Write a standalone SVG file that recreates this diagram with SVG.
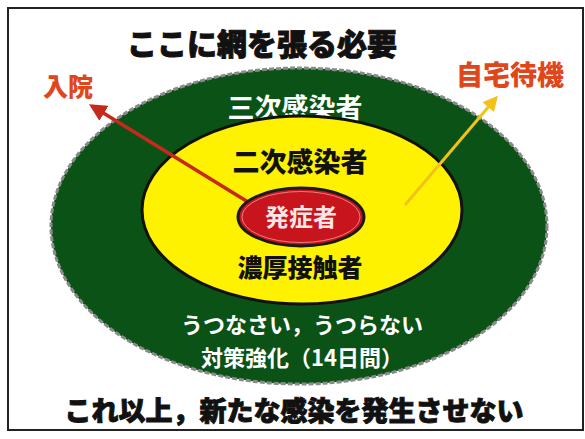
<svg xmlns="http://www.w3.org/2000/svg" width="585" height="439" viewBox="0 0 585 439">
<style>
text{font-family:"Noto Sans CJK JP","Noto Sans CJK SC",sans-serif;font-weight:bold;text-anchor:middle}
.w{fill:#ffffff}
.b{fill:#111111}
.h{font-weight:900}
.k{stroke:#111111;stroke-width:0.9}
.o{fill:#e0461a}
</style>
<defs>
<marker id="ar" viewBox="0 0 10 10" refX="8" refY="5" markerWidth="5" markerHeight="5" orient="auto"><path d="M0,0 L10,5 L0,10 z" fill="#c62a1c"/></marker>
<marker id="ay" viewBox="0 0 10 10" refX="8" refY="5" markerWidth="5" markerHeight="5" orient="auto"><path d="M0,0 L10,5 L0,10 z" fill="#f2c21a"/></marker>
</defs>
<rect width="585" height="439" fill="#ffffff"/>
<rect x="8" y="8" width="575" height="422" fill="none" stroke="#222" stroke-width="2"/>
<g id="outer">
<ellipse cx="299" cy="226" rx="248" ry="158" fill="#0b5217" stroke="#8a8a8a" stroke-width="3" stroke-dasharray="5 2"/>
<text x="295" y="118" font-size="27" class="w">三次感染者</text>
<text x="302" y="333" font-size="22" class="w" font-weight="normal">うつなさい，うつらない</text>
<text x="302" y="366" font-size="22" class="w" font-weight="normal">対策強化（14日間）</text>
</g>
<g id="middle">
<ellipse cx="302" cy="210" rx="160" ry="94" fill="#fff200" stroke="#111" stroke-width="3"/>
<text x="300" y="172" font-size="27" class="b h">二次感染者</text>
<text x="300" y="277" font-size="25" class="b h">濃厚接触者</text>
</g>
<g id="connectors">
<line x1="248" y1="202" x2="92" y2="106" stroke="#c62a1c" stroke-width="3.5" marker-end="url(#ar)"/>
<line x1="405" y1="205" x2="496" y2="98" stroke="#f2c21a" stroke-width="3" marker-end="url(#ay)"/>
</g>
<g id="core">
<ellipse cx="301" cy="217" rx="63" ry="29" fill="#c8141c" stroke="#1a1a1a" stroke-width="3"/>
<ellipse cx="301" cy="217" rx="59" ry="25.5" fill="none" stroke="#e88080" stroke-width="1"/>
<text x="301" y="226" font-size="24" fill="#fbe6e6">発症者</text>
</g>
<g id="title"><text x="262" y="55" font-size="30" class="b h k">ここに網を張る必要</text></g>
<g id="hospital"><text x="68" y="96" font-size="25" class="o h">入院</text></g>
<g id="home"><text x="510" y="85" font-size="27" class="o h">自宅待機</text></g>
<g id="footer"><text x="294" y="421" font-size="27" class="b h k">これ以上，新たな感染を発生させない</text></g>
</svg>
